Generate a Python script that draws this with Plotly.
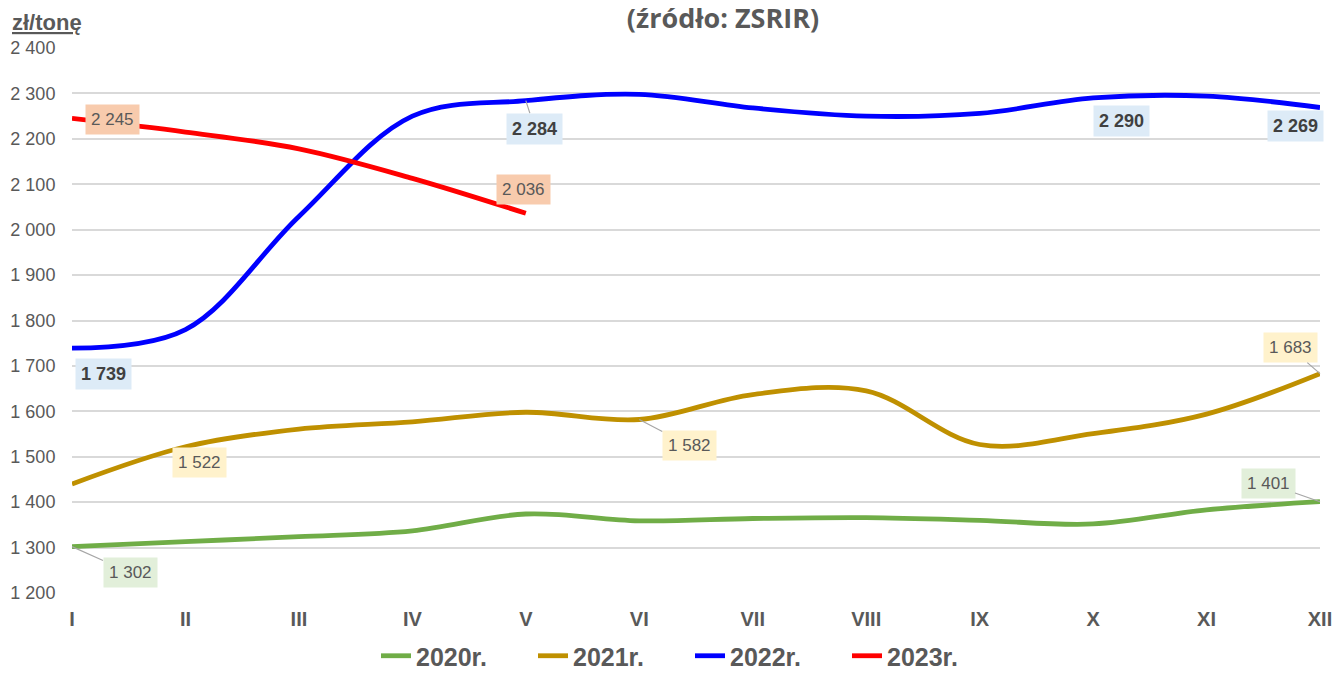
import plotly.graph_objects as go

months = ["I", "II", "III", "IV", "V", "VI", "VII", "VIII", "IX", "X", "XI", "XII"]
y2020 = [1302, 1313, 1324, 1337, 1374, 1359, 1364, 1366, 1360, 1352, 1383, 1401]
y2021 = [1440, 1522, 1561, 1577, 1598, 1582, 1637, 1645, 1527, 1551, 1594, 1683]
y2022 = [1739, 1780, 2029, 2250, 2284, 2298, 2268, 2250, 2256, 2290, 2294, 2269]
y2023 = [2245, 2215, 2178, 2113, 2036]

series_names = ["2020r.", "2021r.", "2022r.", "2023r."]
series_values = [y2020, y2021, y2022, y2023]
colors = ["#70AD47", "#BF9000", "#0000FF", "#FF0000"]
label_bg = ["#E2EFDA", "#FFF2CC", "#DDEBF7", "#F8CBAD"]

FONT = "Liberation Sans, Arial, sans-serif"
TXT = "#595959"

fig = go.Figure()
for name, vals, col in zip(series_names, series_values, colors):
    fig.add_trace(go.Scatter(
        x=months[:len(vals)], y=vals, name=name, mode="lines",
        line=dict(color=col, width=4.8, shape="spline", smoothing=1.0),
        hoverinfo="skip",
    ))

def fmt(v):
    return f"{v:,}".replace(",", " ")

# (series index, month index, offset x, offset y (screen px, down positive), leader)
labels = [
    (0, 0, 58, 26, True),
    (0, 11, -52, -18, True),
    (1, 1, 14, 16, False),
    (1, 5, 50, 26, True),
    (1, 11, -30, -26, True),
    (2, 0, 31, 26, False),
    (2, 4, 9, 28, True),
    (2, 9, 28, 23, False),
    (2, 11, -25, 18, False),
    (3, 0, 40, 1, False),
    (3, 4, -2, -24, False),
]
for si, mi, dx, dy, leader in labels:
    v = series_values[si][mi]
    bold = si == 2
    txt = f"<b>{fmt(v)}</b>" if bold else fmt(v)
    fcol = "#404040" if bold else TXT
    common = dict(x=months[mi], y=v, xref="x", yref="y", text=txt,
                  bgcolor=label_bg[si], borderpad=5,
                  font=dict(family=FONT, size=18 if bold else 17, color=fcol))
    if leader:
        fig.add_annotation(showarrow=True, arrowhead=0, arrowwidth=1.2,
                           arrowcolor="#A6A6A6", ax=dx, ay=dy, **common)
    else:
        fig.add_annotation(showarrow=False, xshift=dx, yshift=-dy, **common)

fig.add_annotation(
    xref="paper", yref="paper", x=-62/1248, y=1 + 26/545,
    text="<b><u>zł/tonę</u></b>", showarrow=False,
    font=dict(family=FONT, size=22, color=TXT),
    xanchor="left", yanchor="middle",
)

fig.update_layout(
    width=1336, height=673,
    margin=dict(l=72, r=16, t=48, b=80),
    paper_bgcolor="white", plot_bgcolor="white",
    separators=", ",
    title=dict(text="<b>(źródło: ZSRIR)</b>", x=723/1336, xref="container",
               xanchor="center", y=1 - 19/673, yref="container", yanchor="middle",
               font=dict(family="Open Sans, sans-serif", size=27, color=TXT)),
    showlegend=True,
    legend=dict(orientation="h", x=376/1336, xanchor="left", xref="container",
                y=1 - 656/673, yanchor="middle", yref="container",
                font=dict(family=FONT, size=25, color=TXT, weight="bold"),
                entrywidth=112, entrywidthmode="pixels",
                tracegroupgap=0, itemwidth=30),
    xaxis=dict(type="category", range=[0, 11], showgrid=False, zeroline=False,
               showline=False, ticks="outside", ticklen=8, tickcolor="rgba(0,0,0,0)",
               automargin=False,
               tickfont=dict(family=FONT, size=20, color=TXT, weight="bold")),
    yaxis=dict(range=[1200, 2400], dtick=100, tickformat=",d", showgrid=True,
               gridcolor="#D9D9D9", gridwidth=1.5, zeroline=False, showline=False,
               ticks="outside", ticklen=12, tickcolor="rgba(0,0,0,0)",
               automargin=False,
               tickfont=dict(family=FONT, size=18, color=TXT)),
)

fig.write_html("out.html", config={"displayModeBar": False},
               post_script="document.body.style.margin='0';document.body.style.overflow='hidden';")
